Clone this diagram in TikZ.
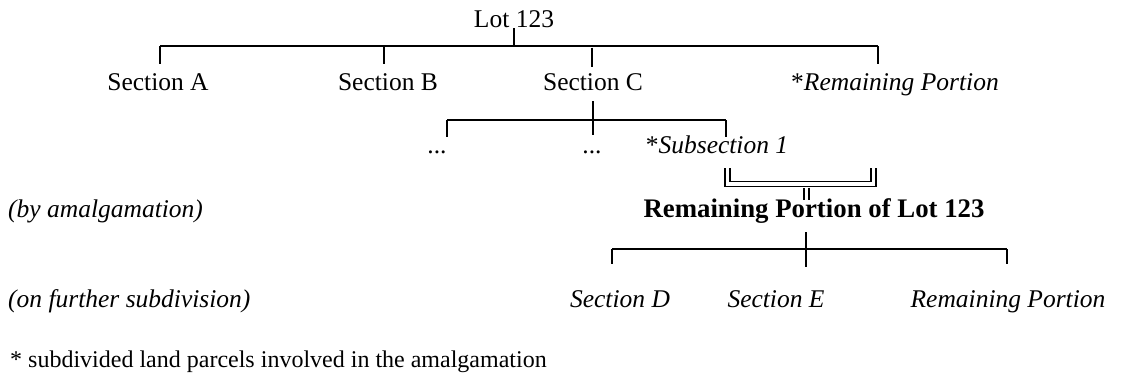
\documentclass[tikz,border=0pt]{standalone}
\usepackage{fontspec}
\setmainfont{Liberation Serif}
\begin{document}
\begin{tikzpicture}[x=1pt,y=-1pt,
  lbl/.style={inner sep=0pt,anchor=base,font=\fontsize{25.5}{30}\selectfont},
  lblbold/.style={inner sep=0pt,anchor=base,font=\fontsize{26.8}{30}\selectfont\bfseries},
  note/.style={lbl,anchor=base west},
  small/.style={inner sep=0pt,anchor=base west,font=\fontsize{24}{28}\selectfont},
  link/.style={line width=1.3pt},
  dlink/.style={line width=1.5pt,double,double distance=3.5pt}]
\useasboundingbox (0,0) rectangle (1121,376);

% first level
\node[lbl] (lot) at (514,27.5) {Lot 123};
\node[lbl] (secA) at (158,90) {Section A};
\node[lbl] (secB) at (388,90) {Section B};
\node[lbl] (secC) at (593,90) {Section C};
\node[lbl] (rp1) at (895,90) {*\textit{Remaining Portion}};

\coordinate (busL) at (160,46);
\coordinate (busR) at (878,46);
\draw[link] (514,28) -- (514,46);
\draw[link] (busL) -- (busR);
\draw[link] (busL) -- (160,64);
\draw[link] (384,46) -- (384,64);
\draw[link] (592,47.5) -- (592,67);
\draw[link] (busR) -- (878,64);

% subdivision of Section C
\node[lbl] (d1) at (437,153) {...};
\node[lbl] (d2) at (592,153) {...};
\node[lbl] (sub1) at (717,153) {*\textit{Subsection 1}};

\coordinate (cL) at (447,120);
\coordinate (cR) at (726,120);
\draw[link] (593,101) -- (593,135);
\draw[link] (cL) -- (cR);
\draw[link] (cL) -- (447,137);
\draw[link] (cR) -- (726,137);

% amalgamation bracket
\node[lblbold] (rpl) at (814,217) {Remaining Portion of Lot 123};
\draw[dlink] (727.5,168) -- (727.5,184) -- (873.5,184) -- (873.5,168);
\draw[dlink] (806.5,187.5) -- (806.5,200);

% further subdivision
\node[lbl] (secD) at (620,307) {\textit{Section D}};
\node[lbl] (secE) at (776,307) {\textit{Section E}};
\node[lbl] (rp2) at (1008,307) {\textit{Remaining Portion}};

\coordinate (eL) at (612,249);
\coordinate (eR) at (1007,249);
\draw[link] (806,232) -- (806,267);
\draw[link] (eL) -- (eR);
\draw[link] (eL) -- (612,264);
\draw[link] (eR) -- (1007,264);

% side notes
\node[note] (amal) at (8,217) {\textit{(by amalgamation)}};
\node[note] (furth) at (8,307) {\textit{(on further subdivision)}};
\node[small] (foot) at (10,367) {* subdivided land parcels involved in the amalgamation};
\end{tikzpicture}
\end{document}
